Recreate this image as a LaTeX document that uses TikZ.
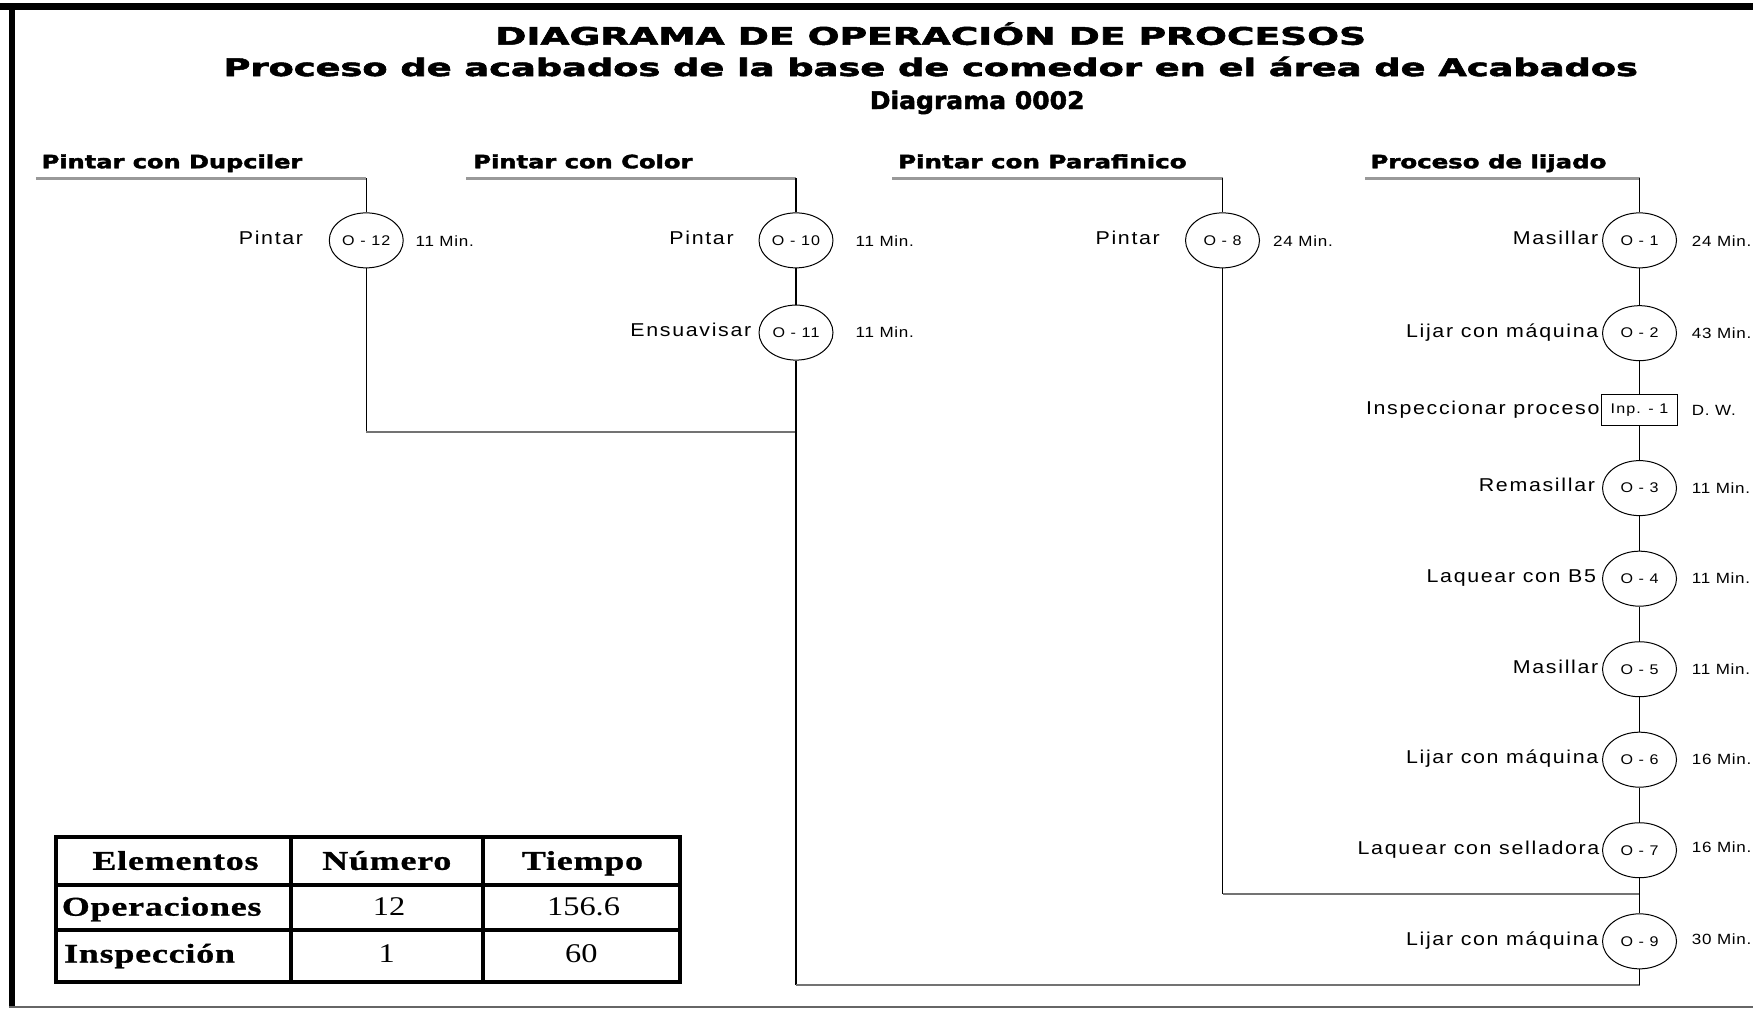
\documentclass[tikz,border=0pt]{standalone}
\usepackage{fontspec}
\usepackage{graphicx}
\usetikzlibrary{shapes.geometric}
\setmainfont{Liberation Sans}
\newfontfamily\heavyfont[FakeBold=2]{DejaVu Sans}
\newfontfamily\labfont[FakeStretch=1.15,LetterSpace=9]{Liberation Sans}
\newfontfamily\timfont[FakeStretch=1.15,LetterSpace=5]{Liberation Sans}
\newfontfamily\opfont[FakeStretch=1.15,LetterSpace=8]{Liberation Sans}
\newfontfamily\tabfont[FakeStretch=1.33,LetterSpace=3,FakeBold=1]{Liberation Serif}
\newfontfamily\numfont[FakeStretch=1.2]{Liberation Serif}
\newlength\upx
\setlength\upx{0.559pt}
\newcommand\fitw[2]{\resizebox{#1\upx}{\height}{#2}}
\begin{document}
\begin{tikzpicture}[x=0.559pt,y=-0.559pt,
  op/.style={ellipse, draw, line width=0.5pt, minimum width=37pt, minimum height=27.5pt, inner sep=0pt, font=\opfont\fontsize{7}{8}\selectfont},
  insp/.style={rectangle, draw, line width=0.5pt, minimum width=38pt, minimum height=15.6pt, inner sep=0pt, font=\opfont\fontsize{7}{8}\selectfont},
  lab/.style={anchor=base east, inner sep=0pt, font=\labfont\fontsize{9.3}{11}\selectfont},
  tim/.style={anchor=base west, inner sep=0pt, font=\timfont\fontsize{7.4}{9}\selectfont},
  hdr/.style={anchor=base west, inner sep=0pt, font=\heavyfont\bfseries\fontsize{9.2}{11}\selectfont},
  ttl/.style={anchor=base, inner sep=0pt, font=\heavyfont\bfseries\fontsize{12.1}{14}\selectfont},
  flow/.style={line width=0.6pt},
  joinl/.style={draw=black!55, line width=1pt},
  uline/.style={draw=black!40, line width=1.5pt},
  tab/.style={line width=2pt},
  th/.style={anchor=base, inner sep=0pt, font=\tabfont\bfseries\fontsize{13.5}{15}\selectfont},
  tl/.style={anchor=base west, inner sep=0pt, font=\tabfont\bfseries\fontsize{13.5}{15}\selectfont},
  tn/.style={anchor=base, inner sep=0pt, font=\numfont\fontsize{13.5}{15}\selectfont}
]
\useasboundingbox (0,0) rectangle (1568,902);
% frame
\fill[black] (0,3) rectangle (1568,9);
\fill[black] (8,3) rectangle (13.5,902);
\draw[black!60, line width=0.8pt] (8,900.5) -- (1568,900.5);

% titles
\node[ttl] (t1) at (832.5,40) {\fitw{779}{DIAGRAMA DE OPERACIÓN DE PROCESOS}};
\node[ttl] (t2) at (832.5,68) {\fitw{1265}{Proceso de acabados de la base de comedor en el área de Acabados}};
\node[ttl] (t3) at (874,97.5) {\fitw{192}{Diagrama 0002}};

% headers
\node[hdr] (hd1) at (37,150.5) {\fitw{233}{Pintar con Dupciler}};
\node[hdr] (hd2) at (423,150.5) {\fitw{196}{Pintar con Color}};
\node[hdr] (hd3) at (803,150.5) {\fitw{258}{Pintar con Parafinico}};
\node[hdr] (hd4) at (1225.5,150.5) {\fitw{211}{Proceso de lijado}};

\coordinate (u1) at (32,159.5);   \coordinate (h1) at (327.6,159.5);
\coordinate (u2) at (417,159.5);  \coordinate (h2) at (712,159.5);
\coordinate (u3) at (798,159.5);  \coordinate (h3) at (1093.5,159.5);
\coordinate (u4) at (1221,159.5); \coordinate (h4) at (1466.5,159.5);
\draw[uline] (u1) -- (h1);
\draw[uline] (u2) -- (h2);
\draw[uline] (u3) -- (h3);
\draw[uline] (u4) -- (h4);

% branch 1
\node[op] (o12) at (327.6,215) {O - 12};
\node[lab] (l12) at (271.5,219) {Pintar};
\node[tim] (m12) at (371.4,220.2) {11 Min.};

% branch 2
\node[op] (o10) at (712,215) {O - 10};
\node[lab] (l10) at (656.6,219) {Pintar};
\node[tim] (m10) at (765,220.2) {11 Min.};
\node[op] (o11) at (712,297.5) {O - 11};
\node[lab] (l11) at (672.4,301) {Ensuavisar};
\node[tim] (m11) at (765,302.2) {11 Min.};

% branch 3
\node[op] (o8) at (1093.5,215) {O - 8};
\node[lab] (l8) at (1037.8,219) {Pintar};
\node[tim] (m8) at (1138.5,220.2) {24 Min.};

% branch 4
\node[op] (o1) at (1466.5,215) {O - 1};
\node[lab] (l1) at (1430,219) {Masillar};
\node[tim] (m1) at (1513,220.2) {24 Min.};
\node[op] (o2) at (1466.5,298) {O - 2};
\node[lab] (l2) at (1430,301.5) {Lijar con máquina};
\node[tim] (m2) at (1513,302.7) {43 Min.};
\node[insp] (i1) at (1466.5,367) {Inp. - 1};
\node[lab] (li1) at (1431,370.5) {Inspeccionar proceso};
\node[tim] (mi1) at (1513,371.5) {D. W.};
\node[op] (o3) at (1466.5,436.6) {O - 3};
\node[lab] (l3) at (1427,440) {Remasillar};
\node[tim] (m3) at (1513,441.3) {11 Min.};
\node[op] (o4) at (1466.5,517.6) {O - 4};
\node[lab] (l4) at (1428,521) {Laquear con B5};
\node[tim] (m4) at (1513,522.3) {11 Min.};
\node[op] (o5) at (1466.5,598.6) {O - 5};
\node[lab] (l5) at (1430,602) {Masillar};
\node[tim] (m5) at (1513,603.3) {11 Min.};
\node[op] (o6) at (1466.5,679.5) {O - 6};
\node[lab] (l6) at (1430,683) {Lijar con máquina};
\node[tim] (m6) at (1513,684.2) {16 Min.};
\node[op] (o7) at (1466.5,760.5) {O - 7};
\node[lab] (l7) at (1431,764) {Laquear con selladora};
\node[tim] (m7) at (1513,762.5) {16 Min.};
\node[op] (o9) at (1466.5,842) {O - 9};
\node[lab] (l9) at (1430,845.5) {Lijar con máquina};
\node[tim] (m9) at (1513,844.5) {30 Min.};

% junction coordinates
\coordinate (j1) at (327.6,386);
\coordinate (j2) at (712,386);
\coordinate (j3) at (712,881);
\coordinate (j4) at (1466.5,881);
\coordinate (j5) at (1093.5,800);
\coordinate (j6) at (1466.5,800);

% flow lines
\draw[flow] (h1) -- (o12);
\draw[flow] (o12) -- (j1);
\draw[joinl] (j1) -- (j2);
\draw[flow] (h2) -- (o10);
\draw[flow] (o10) -- (o11);
\draw[flow] (o11) -- (j3);
\draw[joinl] (j3) -- (j4);
\draw[flow] (j4) -- (o9);
\draw[flow] (h3) -- (o8);
\draw[flow] (o8) -- (j5);
\draw[joinl] (j5) -- (j6);
\draw[flow] (h4) -- (o1);
\draw[flow] (o1) -- (o2);
\draw[flow] (o2) -- (i1);
\draw[flow] (i1) -- (o3);
\draw[flow] (o3) -- (o4);
\draw[flow] (o4) -- (o5);
\draw[flow] (o5) -- (o6);
\draw[flow] (o6) -- (o7);
\draw[flow] (o7) -- (o9);

% table
\draw[tab] (50,749) rectangle (608,878);
\draw[tab] (50,792) -- (608,792);
\draw[tab] (50,832) -- (608,832);
\draw[tab] (260,749) -- (260,878);
\draw[tab] (432,749) -- (432,878);
\node[th] (c1) at (157,778) {Elementos};
\node[th] (c2) at (346,778) {Número};
\node[th] (c3) at (521,778) {Tiempo};
\node[tl] (r1) at (55,819) {Operaciones};
\node[tn] (r1n) at (348,819) {12};
\node[tn] (r1t) at (522,819) {156.6};
\node[tl] (r2) at (57,861) {Inspección};
\node[tn] (r2n) at (346,861) {1};
\node[tn] (r2t) at (520,861) {60};
\end{tikzpicture}
\end{document}
